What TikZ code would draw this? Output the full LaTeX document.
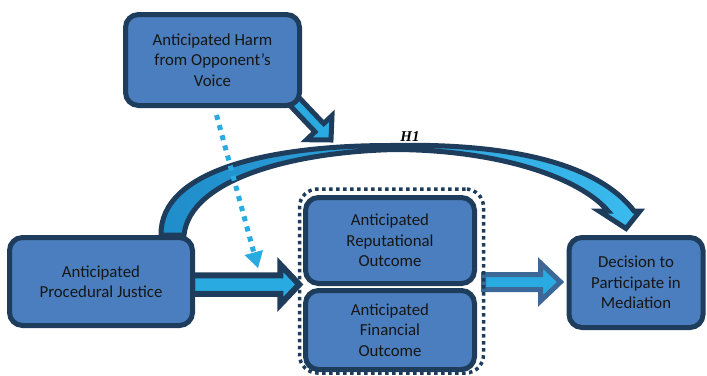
\documentclass[tikz,border=0pt]{standalone}
\usepackage{fontspec}
\setmainfont{Carlito}
\newfontfamily\hfont{Liberation Serif}
\usetikzlibrary{calc}
\pgfdeclarelayer{bg}
\pgfdeclarelayer{mid}
\pgfsetlayers{bg,mid,main}
\definecolor{boxfill}{HTML}{4A7EBE}
\definecolor{boxline}{HTML}{1E3D5C}
\definecolor{arrowfill}{HTML}{29ABE2}
\definecolor{softline}{HTML}{3B6896}
\definecolor{curveL}{HTML}{1F8DCA}
\definecolor{curveR}{HTML}{3BBBEE}
\definecolor{textcol}{HTML}{161616}
% block arrow: #1 start, #2 tip, #3 shaft half width, #4 head half width, #5 head length, #6 style
\newcommand\blockarrow[6]{%
  \coordinate (ba-c) at ($(#2)!#5!(#1)$);
  \draw[#6] ($(#1)!#3!90:(#2)$) -- ($(ba-c)!#3!90:(#2)$) -- ($(ba-c)!#4!90:(#2)$)
    -- (#2) -- ($(ba-c)!#4!-90:(#2)$) -- ($(ba-c)!#3!-90:(#2)$) -- ($(#1)!#3!-90:(#2)$) -- cycle;
}
\begin{document}
\begin{tikzpicture}[x=1pt,y=-1pt,line join=miter,
  box/.style={draw=boxline, fill=boxfill, line width=5pt, rounded corners=13pt,
    text=textcol, align=center, inner sep=0pt, font=\fontsize{16.8}{20.5}\selectfont},
  grpframe/.style={draw=boxline, line width=3.5pt, dash pattern=on 3.5pt off 3.5pt, rounded corners=18pt, inner sep=0pt},
  mainarrow/.style={draw=boxline, fill=arrowfill, line width=6pt},
  harmarrow/.style={draw=boxline, fill=arrowfill, line width=5pt},
  outarrow/.style={draw=softline, fill=arrowfill, line width=5pt},
  curvearrow/.style={draw=boxline, line width=5pt, left color=curveL, right color=curveR},
  dotline/.style={draw=arrowfill, line width=5pt, dash pattern=on 5pt off 5.5pt},
  dothead/.style={fill=arrowfill},
  hlabel/.style={font=\hfont\fontsize{15}{15}\selectfont\bfseries\itshape, text=black, inner sep=0pt}]
\useasboundingbox (0,0) rectangle (707,375);

\node[box, minimum width=174pt, minimum height=91pt] (harm) at (212.5,60) {Anticipated Harm\\from Opponent’s\\Voice};
\node[box, minimum width=183pt, minimum height=88pt] (pj) at (101,281.5) {Anticipated\\Procedural Justice};
\node[box, minimum width=169pt, minimum height=86pt] (rep) at (390,240.5) {Anticipated\\Reputational\\Outcome};
\node[box, minimum width=169pt, minimum height=79pt] (fin) at (390,330) {Anticipated\\Financial\\Outcome};
\node[box, minimum width=134pt, minimum height=90pt] (dec) at (636,282.5) {Decision to\\Participate in\\Mediation};
\node[hlabel] (h1) at (410,137) {H1};

\begin{pgfonlayer}{bg}
  % H1 curved arrow
  \coordinate (h1a) at ($(pj.north east)+(-34,0)$);
  \coordinate (h1b) at ($(pj.north east)+(-11,0)$);
  \coordinate (h1tip) at ($(dec.north)+(-10,-6.5)$);
  \draw[curvearrow] (h1a) .. controls (160,170) and (270,145.5) .. (390,145.5)
     .. controls (500,143) and (595,160) .. (634,211) -- (640,211) -- (h1tip) -- (599,211) -- (608,211)
     .. controls (580,178) and (500,150) .. (395,149.5)
     .. controls (290,152) and (190,180) .. (h1b) -- cycle;
  % harm arrow
  \coordinate (harmout) at ($(harm.south east)+(-8,-7)$);
  \coordinate (harmtip) at (331,140);
  \blockarrow{harmout}{harmtip}{6pt}{17.5pt}{17pt}{harmarrow}
  % outcome -> decision arrow
  \coordinate (grpout) at (483.5,282);
  \coordinate (dectip) at ($(dec.west)+(-6,-0.5)$);
  \blockarrow{grpout}{dectip}{7.5pt}{19pt}{20pt}{outarrow}
\end{pgfonlayer}

\begin{pgfonlayer}{mid}
  \node[grpframe, minimum width=184pt, minimum height=184pt] (grp) at (391.5,281) {};
  % procedural justice -> outcomes arrow
  \coordinate (pjout) at ($(pj.east)+(-3,3)$);
  \coordinate (pjtip) at ($(grp.west)+(1.5,3.5)$);
  \blockarrow{pjout}{pjtip}{9.25pt}{20pt}{19pt}{mainarrow}
  % dotted moderating arrow
  \coordinate (dotstart) at ($(harm.south)+(4,7)$);
  \coordinate (dottip) at (258,268);
  \coordinate (dotbase) at ($(dottip)!16pt!(dotstart)$);
  \draw[dotline] (dotstart) -- ($(dottip)!14pt!(dotstart)$);
  \fill[dothead] ($(dotbase)!9.5pt!90:(dottip)$) -- (dottip) -- ($(dotbase)!9.5pt!-90:(dottip)$) -- cycle;
\end{pgfonlayer}
\end{tikzpicture}
\end{document}
